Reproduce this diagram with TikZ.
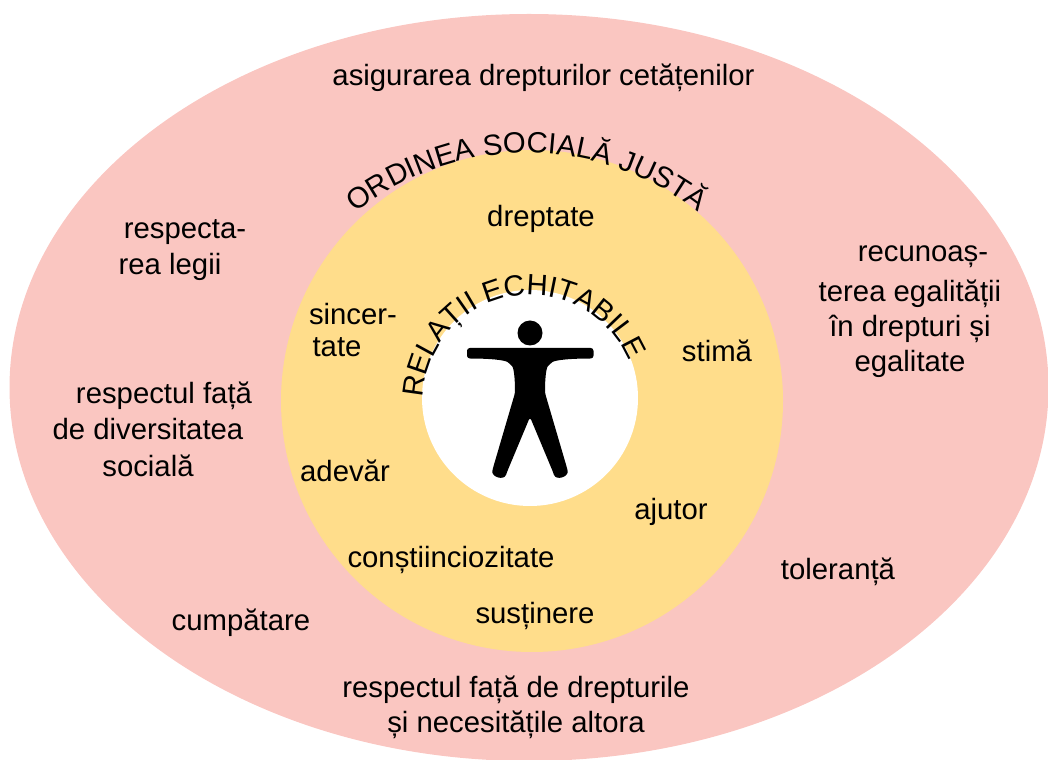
\documentclass[tikz,border=0pt]{standalone}
\usepackage{fontspec}
\setmainfont{Liberation Sans}
\usepackage{xcolor}
\usetikzlibrary{decorations.text}
\definecolor{outerpink}{HTML}{FAC6C1}
\definecolor{inneryellow}{HTML}{FFDD8B}
\tikzset{
	labeltext/.style={font=\fontsize{20.85}{25}\selectfont, inner sep=0pt},
	curvetext/.style={decorate, decoration={text along path, text align=center, text={|\fontsize{20.85}{25}\selectfont|#1}}}
}

\begin{document}
\begin{tikzpicture}[x=0.025cm, y=-0.025cm]
			\useasboundingbox (0,0) rectangle (1048,760);
			\fill[color=outerpink] (529,387.5) ellipse [x radius=519.5, y radius=373.5];
			\fill[color=inneryellow] (532,401) circle (251);
			\fill[color=white] (530,398) circle (108);
			
			\path[curvetext={ORDINEA SOCIALĂ JUSTĂ}] (527,429) ++(205:276) arc [start angle=205, end angle=335, radius=276];
			\path[curvetext={RELAȚII ECHITABILE}] (530,402) ++(175:107) arc [start angle=175, end angle=345, radius=107];
			
			\fill[color=black] (530,333) circle (12.5);
			\fill[color=black, rounded corners=2pt] (467,348) -- (593.5,348) -- (593.5,358.5) .. controls (570,358.5) and (555,360) .. (550,364) .. controls (546,368) and (545,380) .. (545,393) -- (567,468) .. controls (569,477) and (556,481) .. (553,472) -- (530,417) -- (507,472) .. controls (504,481) and (491,477) .. (493,468) -- (515,393) .. controls (515,380) and (514,368) .. (510,364) .. controls (505,360) and (490,358.5) .. (467,358.5) -- cycle;
			
			\node[labeltext] (rights) at (543.5,77.5) {asigurarea drepturilor cetățenilor};
			\node[labeltext] (justice) at (541,218.5) {dreptate};
			\node[labeltext] (lawa) at (185,232.5) {respecta-};
			\node[labeltext] (lawb) at (170,266.5) {rea legii};
			\node[labeltext] (sincerea) at (353,314) {sincer-};
			\node[labeltext] (sincereb) at (337,347) {tate};
			\node[labeltext] (esteem) at (717,350.5) {stimă};
			\node[labeltext] (equalitya) at (923,257) {recunoaș-};
			\node[labeltext, align=center] (equalityb) at (910,329) {terea egalității\\în drepturi și\\egalitate};
			\node[labeltext] (diversa) at (164,395.5) {respectul față};
			\node[labeltext] (diversb) at (148,429.5) {de diversitatea};
			\node[labeltext] (diversc) at (148,465.5) {socială};
			\node[labeltext] (truth) at (345,470.5) {adevăr};
			\node[labeltext] (help) at (671,511.5) {ajutor};
			\node[labeltext] (duty) at (451,559.5) {conștiinciozitate};
			\node[labeltext] (support) at (535,615.5) {susținere};
			\node[labeltext] (tolerance) at (838,571.5) {toleranță};
			\node[labeltext] (temperance) at (241,622.5) {cumpătare};
			\node[labeltext, align=center] (others) at (516,707.5) {respectul față de drepturile\\și necesitățile altora};
		\end{tikzpicture}
\end{document}
